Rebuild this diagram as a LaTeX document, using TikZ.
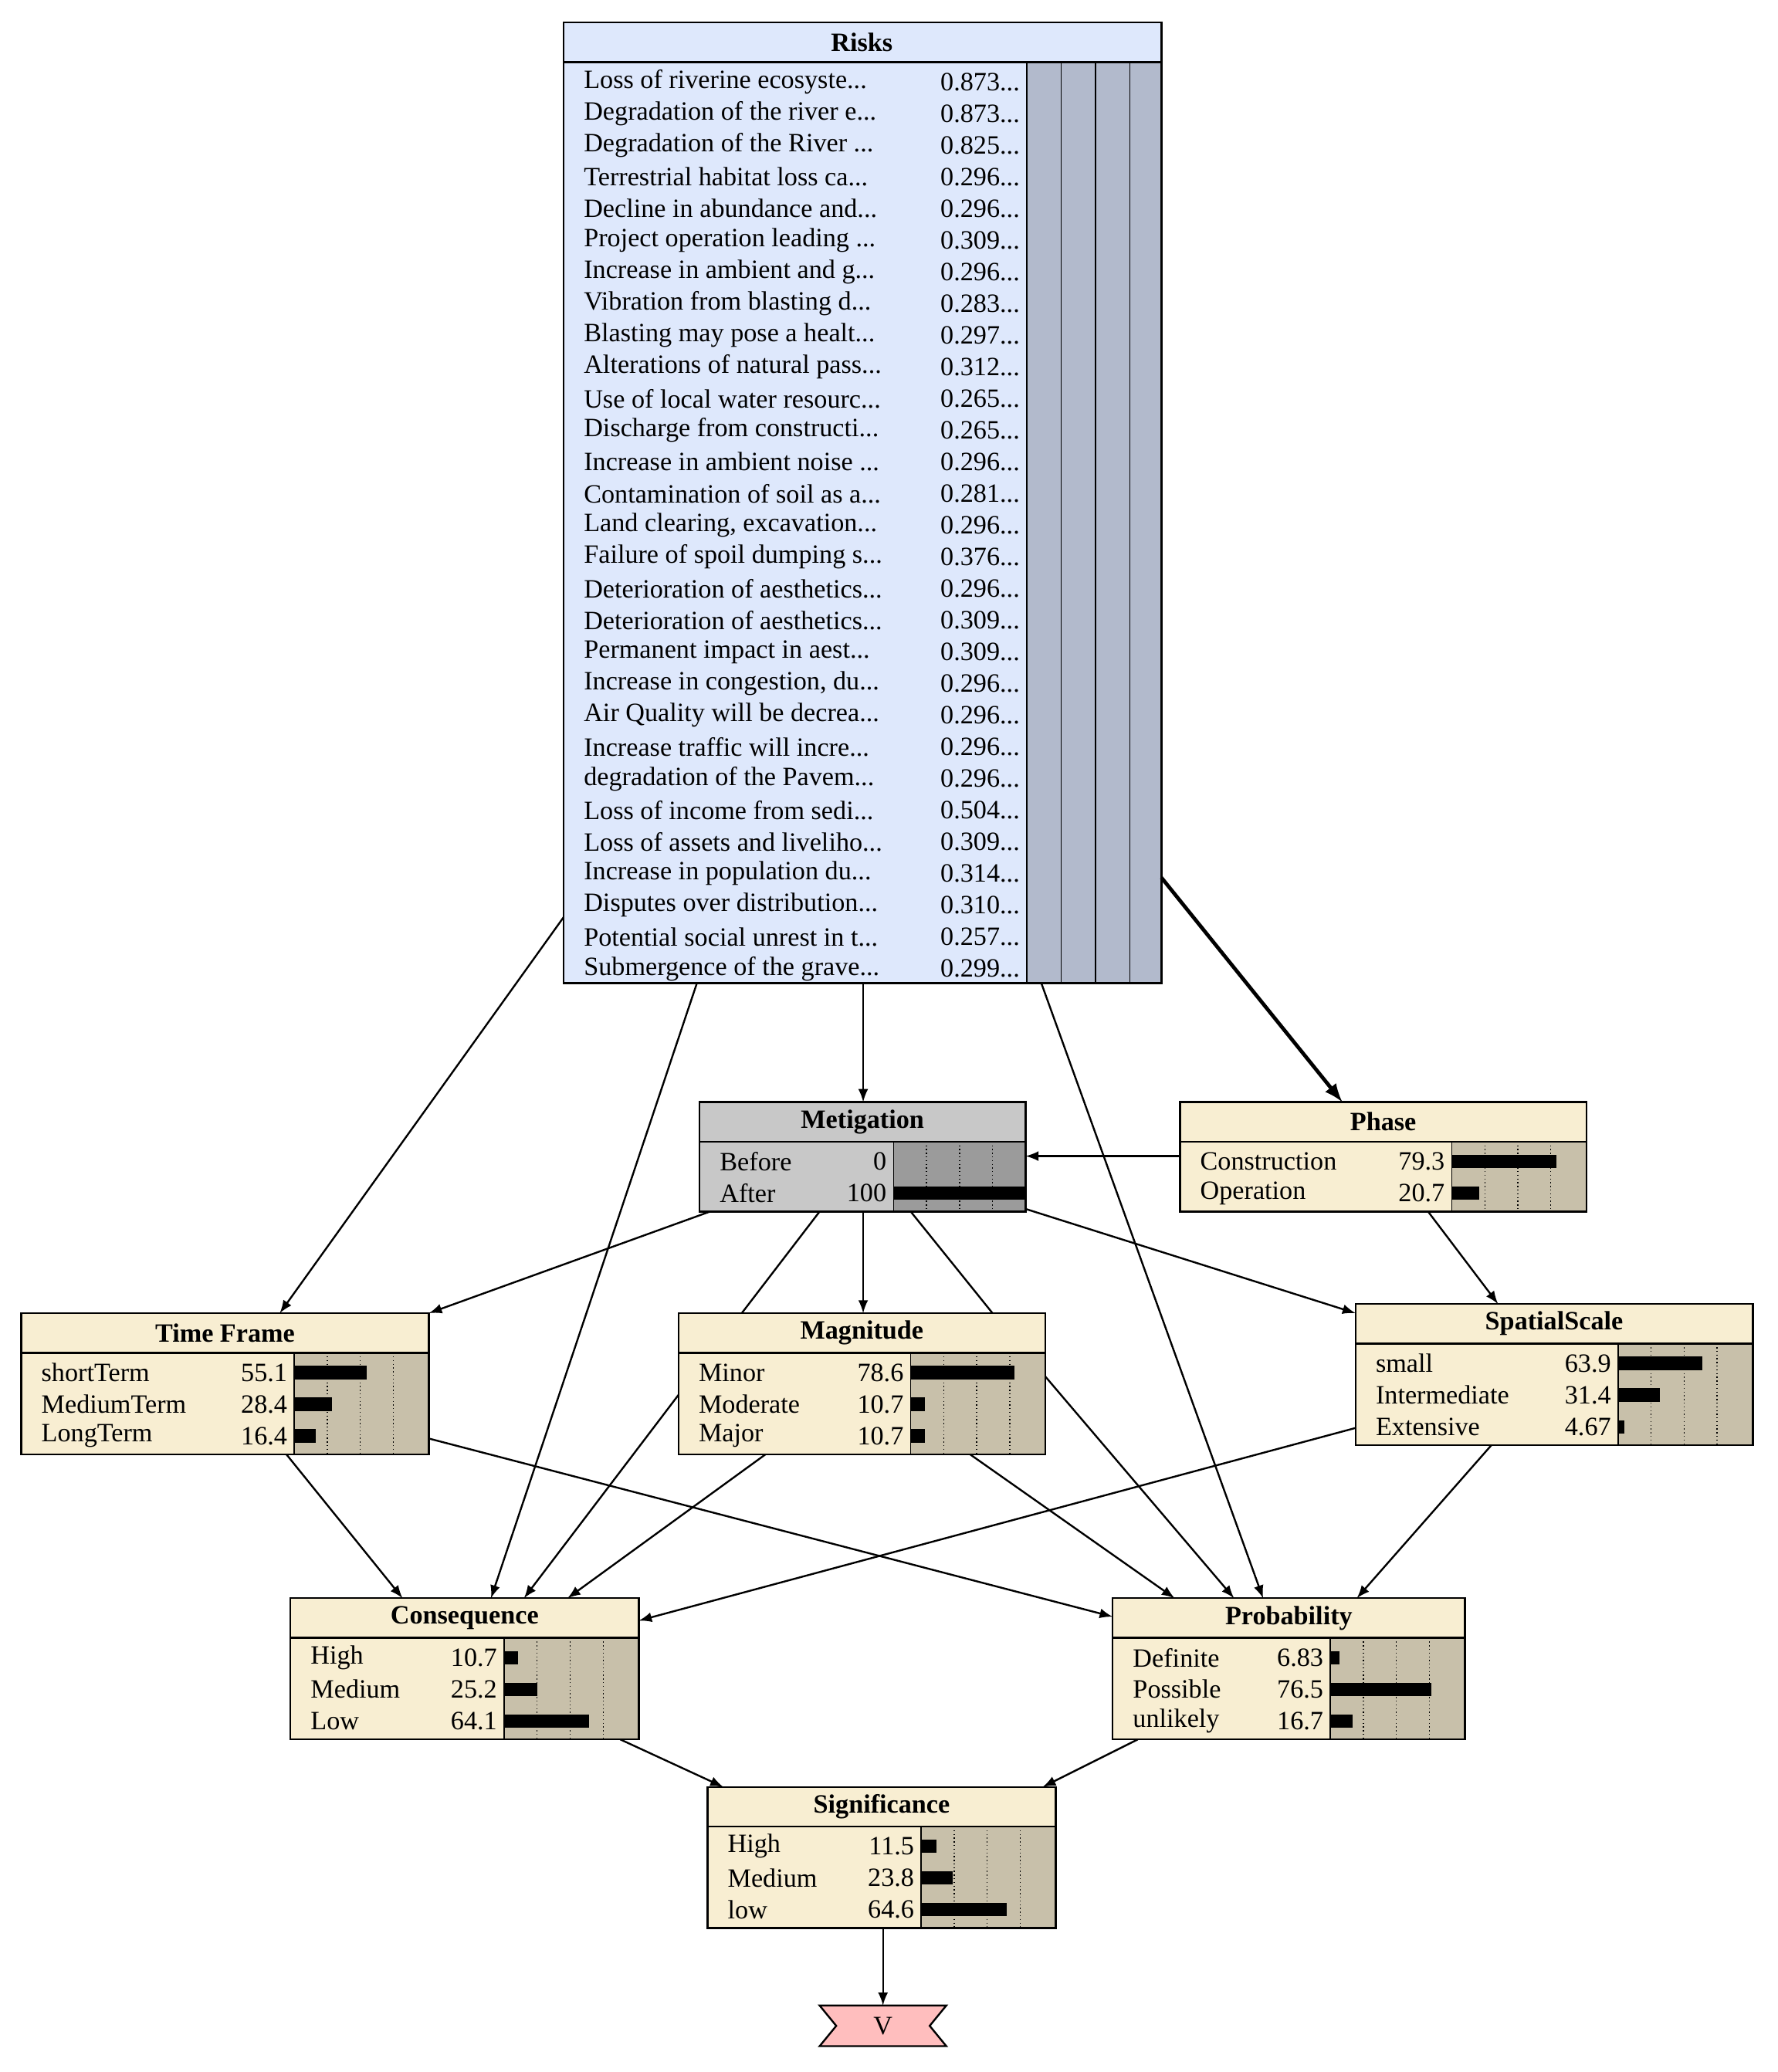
\documentclass[tikz,border=0pt]{standalone}
\usepackage{fontspec}
\setmainfont{Liberation Serif}
\usetikzlibrary{calc}
\definecolor{cream}{RGB}{248,238,210}
\definecolor{barbg}{RGB}{200,192,170}
\definecolor{riskbg}{RGB}{222,232,252}
\definecolor{riskbar}{RGB}{178,186,204}
\definecolor{metg}{RGB}{200,200,200}
\definecolor{metbar}{RGB}{155,155,155}
\definecolor{vpink}{RGB}{255,190,190}
\newcommand\dts{...}
\tikzset{
 box/.style={draw=black,line width=0.7pt,inner sep=0,outer sep=0,anchor=north west},
 ttl/.style={font=\bfseries\fontsize{10}{12}\selectfont},
 lbl/.style={font=\fontsize{10}{12}\selectfont,inner sep=0,anchor=west},
 val/.style={font=\fontsize{10}{12}\selectfont,inner sep=0,anchor=east},
 edge/.style={-latex,line width=0.7pt},
}
% name, x, y, w, h, barx(rel), title, fill, barfill
\newcommand\bnbox[9]{%
 \node[box,fill=#8,minimum width=#4*0.5pt,minimum height=#5*0.5pt] (#1) at (#2,#3) {};
 \fill[#9] ([shift={(#6,30)}]#1.north west) rectangle (#1.south east);
 \draw[line width=0.5pt] ([shift={(#6,30)}]#1.north west) -- ([shift={(#6,0)}]#1.south west);
 \foreach \k in {25,50,75}{\draw[densely dotted,line width=0.4pt] ([shift={(#6+\k,30)}]#1.north west) -- ([shift={(#6+\k,0)}]#1.south west);}
 \draw[line width=0.7pt] ([shift={(0,30)}]#1.north west) -- ([shift={(0,30)}]#1.north east);
 \node[ttl] at ([shift={(#4/2,15)}]#1.north west) {#7};
 \draw[line width=0.7pt] (#1.north west) rectangle (#1.south east);
}
% name, barx, first row y, list label/value/pct
\newcommand\bnrows[4]{%
 \foreach \l/\v/\p [count=\i from 0] in {#4}{
  \node[lbl] at ([shift={(15,#3+24*\i)}]#1.north west) {\l};
  \node[val] at ([shift={(#2-5,#3+24*\i)}]#1.north west) {\v};
  \ifdim\p pt>0pt \fill[black] ([shift={(#2,#3+24*\i-5)}]#1.north west) rectangle ++(\p,10);\fi
 }}
\begin{document}
\begin{tikzpicture}[x=0.5pt,y=-0.5pt]
\useasboundingbox (0,0) rectangle (1347,1570);
% Risks
\node[box,fill=riskbg,minimum width=453*0.5pt,minimum height=728*0.5pt] (risks) at (427,17) {};
\fill[riskbar] ([shift={(351,30)}]risks.north west) rectangle (risks.south east);
\foreach \k in {0,26,52,78}{\draw[line width=0.5pt] ([shift={(351+\k,30)}]risks.north west) -- ([shift={(351+\k,0)}]risks.south west);}
\draw[line width=0.7pt] ([shift={(0,30)}]risks.north west) -- ([shift={(0,30)}]risks.north east);
\node[ttl] at ([shift={(226,15)}]risks.north west) {Risks};
\draw[line width=0.7pt] (risks.north west) rectangle (risks.south east);
\bnrows{risks}{351}{45}{Loss of riverine ecosyste\dts/0.873\dts/0,Degradation of the river e\dts/0.873\dts/0,Degradation of the River \dts/0.825\dts/0,Terrestrial habitat loss ca\dts/0.296\dts/0,Decline in abundance and\dts/0.296\dts/0,Project operation leading \dts/0.309\dts/0,Increase in ambient and g\dts/0.296\dts/0,Vibration from blasting d\dts/0.283\dts/0,Blasting may pose a healt\dts/0.297\dts/0,Alterations of natural pass\dts/0.312\dts/0,Use of local water resourc\dts/0.265\dts/0,Discharge from constructi\dts/0.265\dts/0,Increase in ambient noise \dts/0.296\dts/0,Contamination of soil as a\dts/0.281\dts/0,{Land clearing, excavation\dts}/0.296\dts/0,Failure of spoil dumping s\dts/0.376\dts/0,Deterioration of aesthetics\dts/0.296\dts/0,Deterioration of aesthetics\dts/0.309\dts/0,Permanent impact in aest\dts/0.309\dts/0,{Increase in congestion, du\dts}/0.296\dts/0,Air Quality will be decrea\dts/0.296\dts/0,Increase traffic will incre\dts/0.296\dts/0,degradation of the Pavem\dts/0.296\dts/0,Loss of income from sedi\dts/0.504\dts/0,Loss of assets and liveliho\dts/0.309\dts/0,Increase in population du\dts/0.314\dts/0,Disputes over distribution\dts/0.310\dts/0,Potential social unrest in t\dts/0.257\dts/0,Submergence of the grave\dts/0.299\dts/0}
% other nodes
\bnbox{met}{530}{835}{247}{83}{147}{Metigation}{metg}{metbar}
\bnrows{met}{147}{45}{Before/0/0,After/100/100}
\bnbox{phase}{894}{835}{308}{83}{206}{Phase}{cream}{barbg}
\bnrows{phase}{206}{45}{Construction/79.3/79.3,Operation/20.7/20.7}
\bnbox{tf}{16}{995}{309}{107}{207}{Time Frame}{cream}{barbg}
\bnrows{tf}{207}{45}{shortTerm/55.1/55.1,MediumTerm/28.4/28.4,LongTerm/16.4/16.4}
\bnbox{mag}{514}{995}{278}{107}{176}{Magnitude}{cream}{barbg}
\bnrows{mag}{176}{45}{Minor/78.6/78.6,Moderate/10.7/10.7,Major/10.7/10.7}
\bnbox{sp}{1027}{988}{301}{107}{199}{SpatialScale}{cream}{barbg}
\bnrows{sp}{199}{45}{small/63.9/63.9,Intermediate/31.4/31.4,Extensive/4.67/4.67}
\bnbox{con}{220}{1211}{264}{107}{162}{Consequence}{cream}{barbg}
\bnrows{con}{162}{45}{High/10.7/10.7,Medium/25.2/25.2,Low/64.1/64.1}
\bnbox{prob}{843}{1211}{267}{107}{165}{Probability}{cream}{barbg}
\bnrows{prob}{165}{45}{Definite/6.83/6.83,Possible/76.5/76.5,unlikely/16.7/16.7}
\bnbox{sig}{536}{1354}{264}{107}{162}{Significance}{cream}{barbg}
\bnrows{sig}{162}{45}{High/11.5/11.5,Medium/23.8/23.8,low/64.6/64.6}
% V hexagon
\node[minimum width=35pt,minimum height=15pt,inner sep=0] (v) at (669,1535) {};
\fill[vpink,draw=black,line width=0.7pt] (v.west) -- ([xshift=-24]v.north) -- ([xshift=24]v.north) -- (v.east) -- ([xshift=24]v.south) -- ([xshift=-24]v.south) -- cycle;
\node[font=\fontsize{10}{12}\selectfont] at (v) {V};
% edges
\draw[edge] ([shift={(0,678)}]risks.north west) -- ([shift={(196,0)}]tf.north west);
\draw[edge] ([shift={(101,728)}]risks.north west) -- ([shift={(152,0)}]con.north west);
\draw[edge] ([shift={(227,728)}]risks.north west) -- ([shift={(124,0)}]met.north west);
\draw[edge] ([shift={(362,728)}]risks.north west) -- ([shift={(114,0)}]prob.north west);
\draw[edge,line width=1.4pt] ([shift={(453,648)}]risks.north west) -- ([shift={(123,0)}]phase.north west);
\draw[edge] ([shift={(0,41)}]phase.north west) -- ([shift={(247,41)}]met.north west);
\draw[edge] ([shift={(188,83)}]phase.north west) -- ([shift={(108,0)}]sp.north west);
\draw[edge] ([shift={(8,83)}]met.north west) -- ([shift={(309,0)}]tf.north west);
\draw[edge] ([shift={(124,83)}]met.north west) -- ([shift={(140,0)}]mag.north west);
\draw[edge] ([shift={(247,81)}]met.north west) -- ([shift={(0,7)}]sp.north west);
\draw[edge] ([shift={(201,107)}]tf.north west) -- ([shift={(85,0)}]con.north west);
\draw[edge] ([shift={(309,95)}]tf.north west) -- ([shift={(0,14)}]prob.north west);
\draw[edge] ([shift={(66,107)}]mag.north west) -- ([shift={(210,0)}]con.north west);
\draw[edge] ([shift={(221,107)}]mag.north west) -- ([shift={(47,0)}]prob.north west);
\draw[edge] ([shift={(0,94)}]sp.north west) -- ([shift={(264,17)}]con.north west);
\draw[edge] ([shift={(103,107)}]sp.north west) -- ([shift={(185,0)}]prob.north west);
\draw[edge] ([shift={(250,107)}]con.north west) -- ([shift={(12,0)}]sig.north west);
\draw[edge] ([shift={(19,107)}]prob.north west) -- ([shift={(254,0)}]sig.north west);
\draw[edge] ([shift={(133,107)}]sig.north west) -- (v.north);
% edges passing behind Magnitude
\draw[line width=0.7pt] ([shift={(91,83)}]met.north west) -- ([shift={(48,0)}]mag.north west);
\draw[edge] ([shift={(0,62)}]mag.north west) -- ([shift={(177,0)}]con.north west);
\draw[line width=0.7pt] ([shift={(160,83)}]met.north west) -- ([shift={(238,0)}]mag.north west);
\draw[edge] ([shift={(278,48)}]mag.north west) -- ([shift={(92,0)}]prob.north west);
\end{tikzpicture}
\end{document}
